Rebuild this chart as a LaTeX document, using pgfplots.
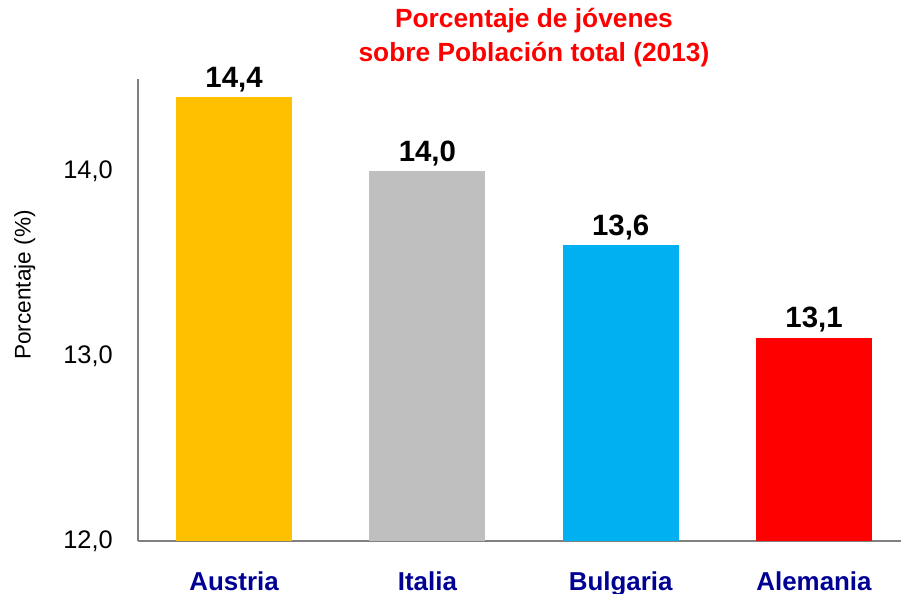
\documentclass[border=0pt]{standalone}
\usepackage{pgfplots}
\pgfplotsset{compat=1.18}
\usepackage{fontspec}
\setmainfont{Liberation Sans}
\definecolor{cAus}{HTML}{FFC000}
\definecolor{cIta}{HTML}{BFBFBF}
\definecolor{cBul}{HTML}{00B0F0}
\definecolor{cAle}{HTML}{FF0000}
\definecolor{catblue}{HTML}{000094}
\definecolor{axgray}{HTML}{808080}
\begin{document}
\begin{tikzpicture}
\path[use as bounding box] (0,0) rectangle (901bp,594bp);
\begin{axis}[
  at={(138bp,53bp)}, anchor=south west,
  scale only axis, width=763bp, height=462bp,
  xmin=-0.497, xmax=3.45, ymin=12, ymax=14.5,
  axis lines*=left,
  axis line style={axgray, line width=1.5bp},
  ybar, bar width=116bp, bar shift=0pt,
  xtick={0,1,2,3},
  xticklabels={Austria,Italia,Bulgaria,Alemania},
  ytick={12,13,14},
  major tick length=0pt,
  /pgf/number format/use comma,
  /pgf/number format/fixed,
  /pgf/number format/fixed zerofill,
  /pgf/number format/precision=1,
  /pgf/number format/assume math mode=true,
  yticklabel style={font=\fontsize{25.5}{30}\selectfont, anchor=east, inner sep=0pt, xshift=-25bp},
  xticklabel style={font=\fontsize{26}{31}\selectfont\bfseries, text=catblue, anchor=base, inner sep=0pt, yshift=-49bp},
  ylabel={Porcentaje (\%)},
  every axis y label/.style={at={(axis description cs:-0.1483,0.554)}, anchor=center, rotate=90, font=\fontsize{22.7}{27}\selectfont},
  nodes near coords,
  every node near coord/.append style={font=\fontsize{29.5}{34}\selectfont\bfseries, anchor=base, inner sep=0pt, yshift=10bp},
  clip=false,
]
\addplot[fill=cAus, draw=none] coordinates {(0,14.4)};
\addplot[fill=cIta, draw=none] coordinates {(1,14.0)};
\addplot[fill=cBul, draw=none] coordinates {(2,13.6)};
\addplot[fill=cAle, draw=none] coordinates {(3,13.1)};
\end{axis}
\node[anchor=base, text=red, font=\fontsize{26.4}{31}\selectfont\bfseries, inner sep=0pt] at (534bp,566bp) {Porcentaje de jóvenes};
\node[anchor=base, text=red, font=\fontsize{26.4}{31}\selectfont\bfseries, inner sep=0pt] at (534bp,532bp) {sobre Población total (2013)};
\end{tikzpicture}
\end{document}
